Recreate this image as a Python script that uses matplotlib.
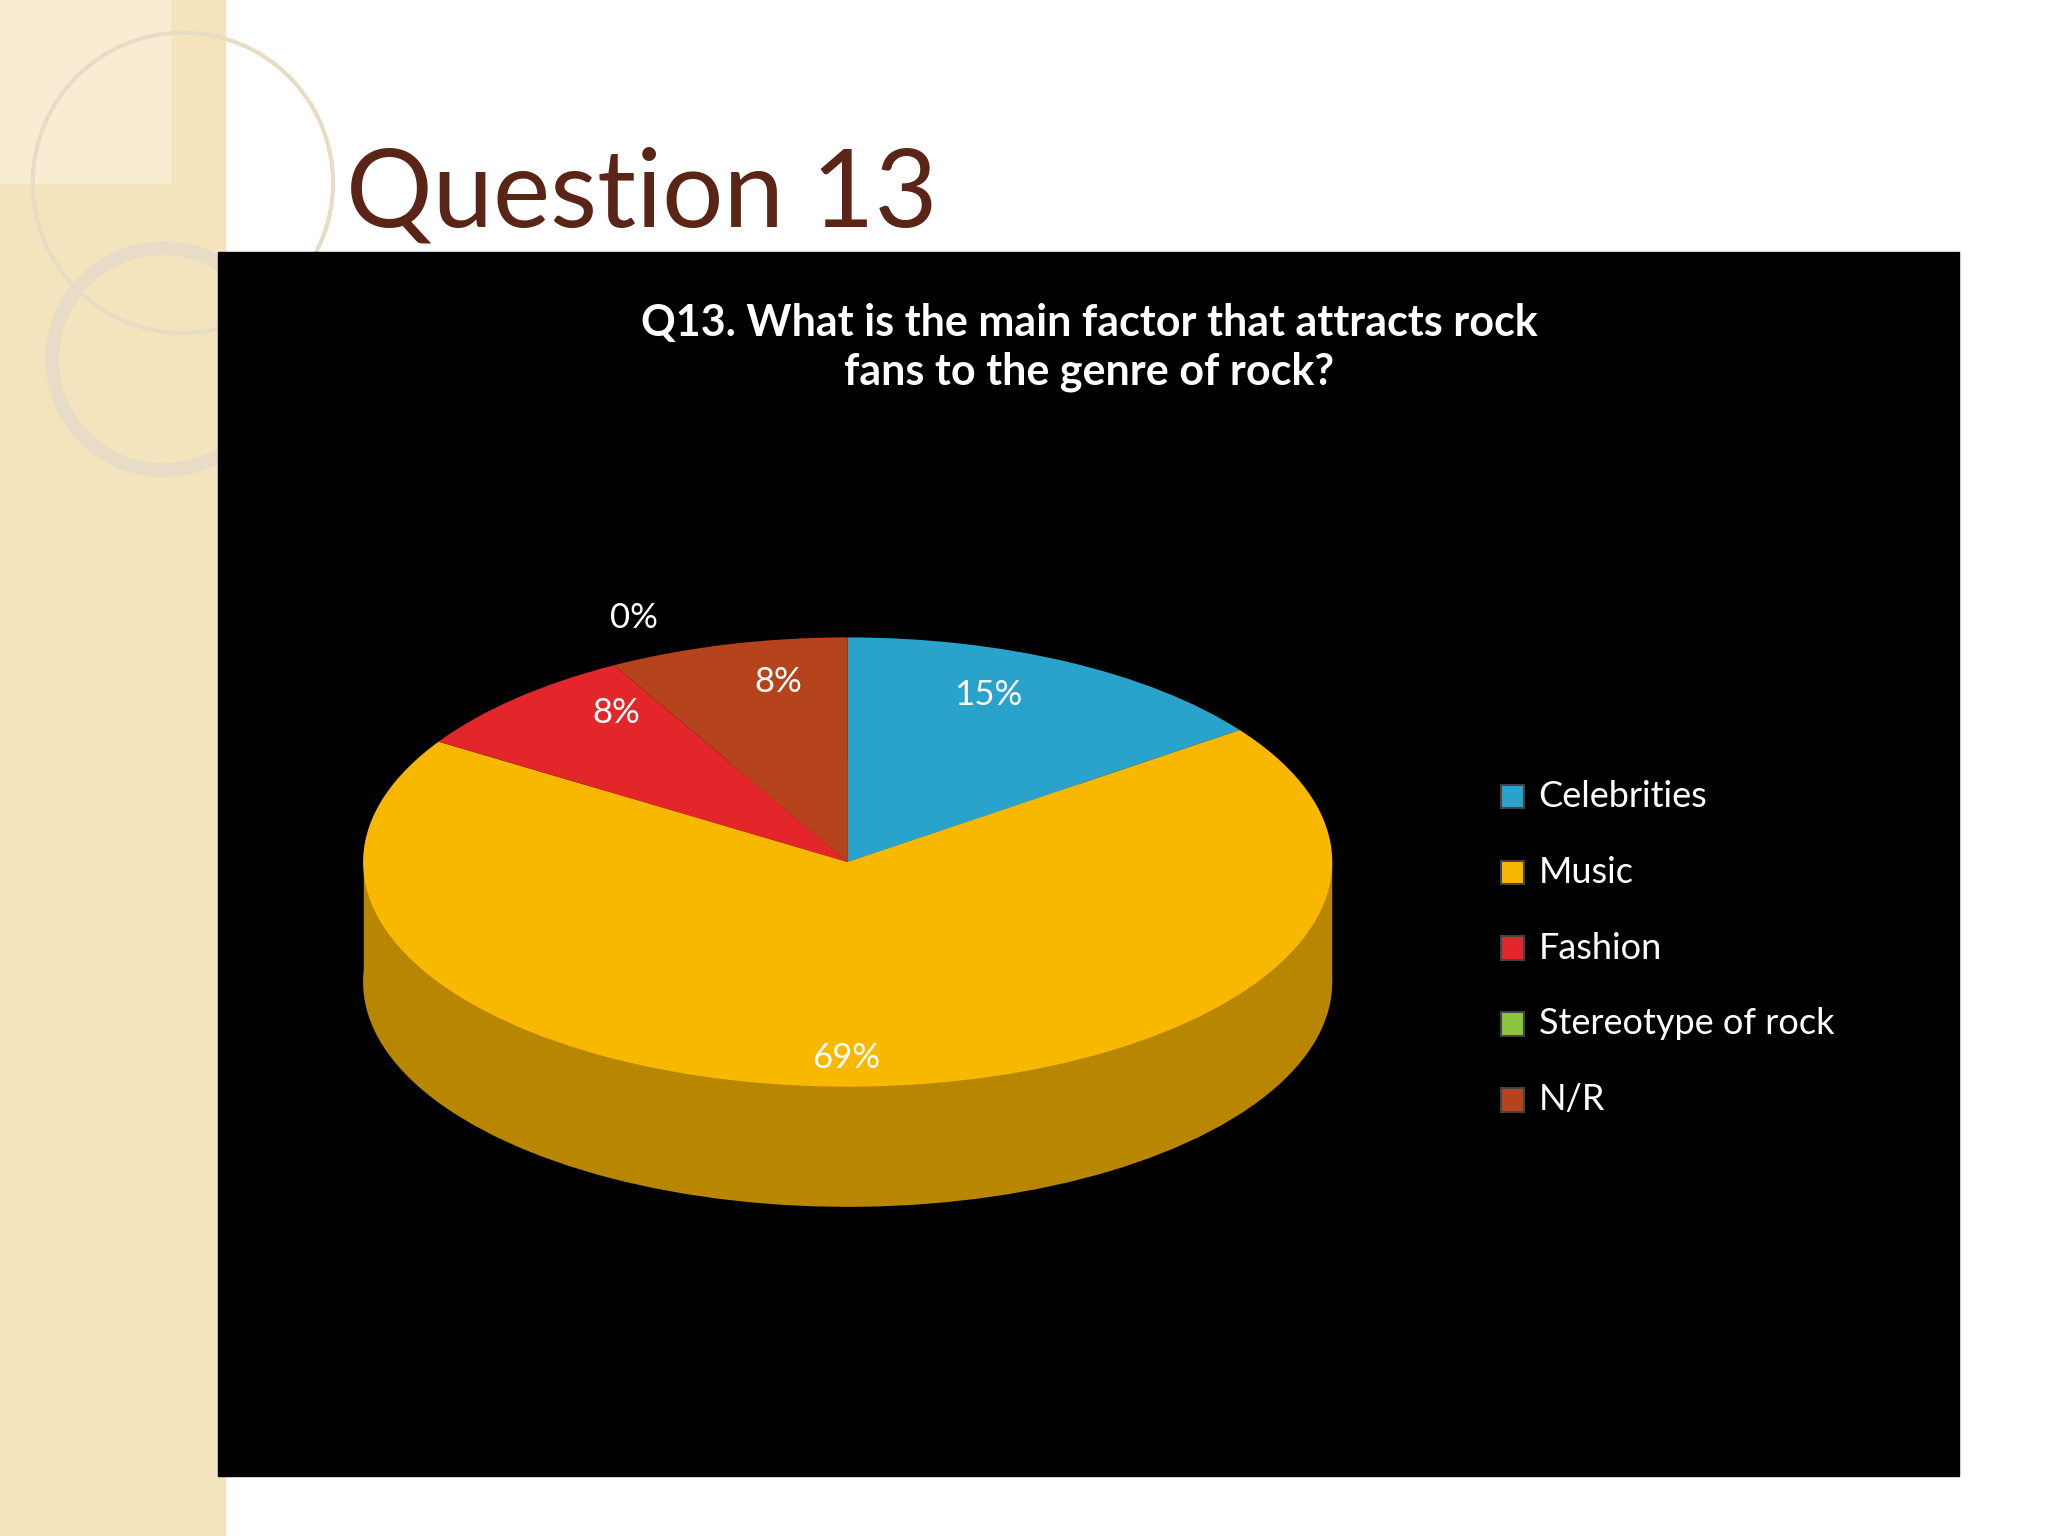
import matplotlib
matplotlib.use("Agg")
import matplotlib.pyplot as plt
from matplotlib.patches import Rectangle, Circle

categories = ["Celebrities", "Music", "Fashion", "Stereotype of rock", "N/R"]
values = [15, 69, 8, 0.0001, 8]
pct_labels = ["15%", "69%", "8%", "0%", "8%"]
colors = ["#2aa3cc", "#f9b800", "#e3262a", "#8cc63f", "#b5441c"]
side_colors = ["#1a6f8c", "#b88600", "#9c1518", "#5d8a27", "#7a2d10"]

W, H = 1568, 1176
def fx(x): return x / W
def fy(y): return 1 - y / H

plt.rcParams['font.family'] = ['Lato', 'DejaVu Sans']
fig = plt.figure(figsize=(20.48, 15.36), dpi=100, facecolor="white")
bg = fig.add_axes([0, 0, 1, 1]); bg.set_xlim(0, W); bg.set_ylim(H, 0); bg.axis("off")
bg.add_patch(Rectangle((0, 0), 172, H, color="#f3e4be", zorder=0))
bg.add_patch(Rectangle((0, 0), 130, 140, color="#f8edd2", zorder=0))
for (cx, cy, r, lw) in [(140, 140, 115, 3), (125, 275, 85, 10)]:
    bg.add_patch(Circle((cx, cy), r, fill=False, ec="#e8dcc6", lw=lw, zorder=1))
bg.add_patch(Rectangle((167, 193), 1333, 937, color="black", zorder=2))
bg.text(265, 150, "Question 13", fontsize=78, color="#5a2416", va="center", ha="left", zorder=3)
bg.text(834, 266, "Q13. What is the main factor that attracts rock\nfans to the genre of rock?",
        fontsize=31, fontweight="bold", color="white", ha="center", va="center",
        linespacing=1.25, zorder=3)

# pie geometry (reference px)
x0, x1, y0, y1, depth = 278, 1020, 488, 832, 92
def pie_axes(dy):
    return fig.add_axes([fx(x0), fy(y1 + dy), fx(x1) - fx(x0), (y1 - y0) / H])

axs = pie_axes(depth)
axs.pie(values, colors=side_colors, startangle=90, counterclock=False,
        wedgeprops=dict(linewidth=0))
axs.set_aspect("auto"); axs.set_xlim(-1, 1); axs.set_ylim(-1, 1); axs.axis("off")
bg.add_patch(Rectangle((x0 + 1, (y0 + y1) / 2), x1 - x0 - 2, depth, color="#b88600", zorder=3))
axs.set_zorder(2.5)

axt = pie_axes(0)
axt.pie(values, colors=colors, startangle=90, counterclock=False,
        wedgeprops=dict(linewidth=0))
axt.set_aspect("auto"); axt.set_xlim(-1, 1); axt.set_ylim(-1, 1); axt.axis("off")
axt.set_zorder(4)

label_pos = [(757, 532), (648, 810), (472, 546), (485, 473), (596, 522)]
for (x, y), t in zip(label_pos, pct_labels):
    fig.text(fx(x), fy(y), t, fontsize=25, color="white", ha="center", va="center", zorder=10)

for i, (c, name) in enumerate(zip(colors, categories)):
    y = 610 + i * 58
    fig.patches.append(Rectangle((fx(1149), fy(y + 9)), 18 / W, 18 / H,
                                 transform=fig.transFigure, fc=c, ec="#444444", lw=1.5, zorder=10))
    fig.text(fx(1178), fy(y), name, fontsize=26, color="white", ha="left", va="center", zorder=10)

fig.savefig("out.png", dpi=100, facecolor="white")
